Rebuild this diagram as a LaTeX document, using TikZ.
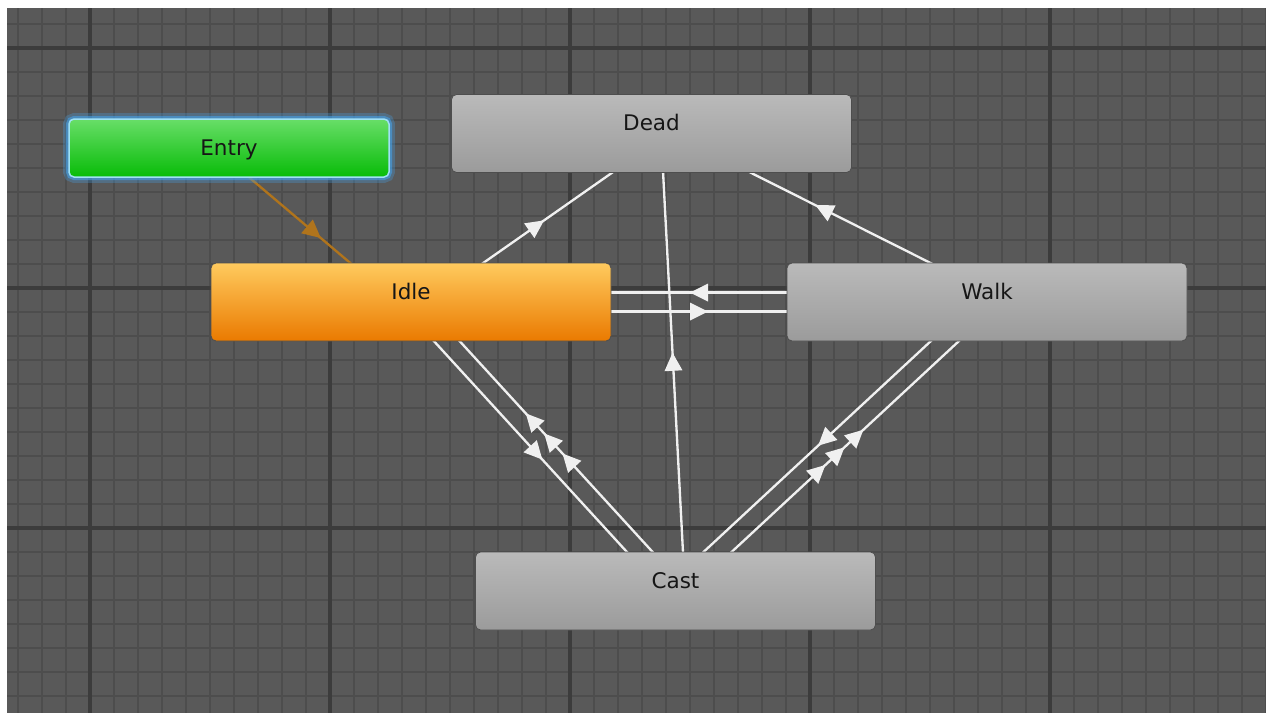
\documentclass[tikz,border=0pt]{standalone}
\usepackage{fontspec}
\setmainfont{DejaVu Sans}
\usetikzlibrary{decorations.markings}

\pgfdeclarelayer{gridlayer}
\pgfdeclarelayer{edgelayer}
\pgfsetlayers{gridlayer,edgelayer,main}

\definecolor{canvas}{RGB}{89,89,89}
\definecolor{minorline}{RGB}{77,77,77}
\definecolor{majorline}{RGB}{60,60,60}
\definecolor{greytop}{RGB}{186,186,186}
\definecolor{greybot}{RGB}{155,155,155}
\definecolor{idletop}{RGB}{255,202,94}
\definecolor{idlebot}{RGB}{234,122,0}
\definecolor{entrytop}{RGB}{104,222,104}
\definecolor{entrybot}{RGB}{8,188,8}
\definecolor{glow}{RGB}{70,160,230}
\definecolor{glowedge}{RGB}{160,225,245}
\definecolor{entryline}{RGB}{176,116,28}
\definecolor{linkwhite}{RGB}{240,240,240}
\definecolor{labelink}{RGB}{22,22,22}
\definecolor{boxedge}{RGB}{78,78,78}

\newcommand\headshape{(5.4pt,0pt) -- (-5.4pt,5.4pt) -- (-5.4pt,-5.4pt) -- cycle}

\tikzset{
  statebox/.style={rounded corners=3pt, minimum width=240pt, inner xsep=0pt, inner ysep=0pt,
    text height=21.6pt, text depth=25.2pt, font=\fontsize{12.9pt}{15pt}\selectfont,
    text=labelink, draw=boxedge, line width=0.5pt},
  greystate/.style={statebox, top color=greytop, bottom color=greybot},
  idlestate/.style={statebox, top color=idletop, bottom color=idlebot},
  entrystate/.style={statebox, minimum width=192pt, text height=22pt, text depth=12.8pt,
    top color=entrytop, bottom color=entrybot, draw=glowedge, line width=0.9pt,
    preaction={draw=glow, line width=7pt, draw opacity=0.3},
    preaction={draw=glow, line width=3.6pt, draw opacity=0.6}},
  link/.style={draw=linkwhite, line width=1.4pt},
  entrylink/.style={draw=entryline, line width=1.4pt},
  onehead/.style={postaction={decorate, decoration={markings,
    mark=at position 0.5 with {\fill[#1] \headshape;}}}},
  threeheadidle/.style={postaction={decorate, decoration={markings,
    mark=at position 0.4305 with {\fill[linkwhite] \headshape;},
    mark=at position 0.5 with {\fill[linkwhite] \headshape;},
    mark=at position 0.5695 with {\fill[linkwhite] \headshape;}}}},
  threeheadwalk/.style={postaction={decorate, decoration={markings,
    mark=at position 0.439 with {\fill[linkwhite] \headshape;},
    mark=at position 0.5 with {\fill[linkwhite] \headshape;},
    mark=at position 0.561 with {\fill[linkwhite] \headshape;}}}},
}

\begin{document}
\begin{tikzpicture}[x=0.6pt, y=-0.6pt]
\useasboundingbox (0,0) rectangle (1266,713);

% canvas and grid
\begin{pgfonlayer}{gridlayer}
  \fill[white] (0,0) rectangle (1266,713);
  \fill[canvas] (7,8) rectangle (1266,713);
  \begin{scope}
    \clip (7,8) rectangle (1266,713);
    \foreach \gx in {18,42,...,1266} \draw[minorline, line width=1.4pt] (\gx,8) -- (\gx,713);
    \foreach \gy in {24,48,...,713} \draw[minorline, line width=1.4pt] (7,\gy) -- (1266,\gy);
    \foreach \gx in {90,330,570,810,1050} \draw[majorline, line width=2.2pt] (\gx,8) -- (\gx,713);
    \foreach \gy in {48,288,528} \draw[majorline, line width=2.2pt] (7,\gy) -- (1266,\gy);
  \end{scope}
\end{pgfonlayer}

% states
\node[entrystate] (entry) at (229,148) {Entry};
\node[greystate] (dead) at (651.5,133.5) {Dead};
\node[idlestate] (idle) at (411,302) {Idle};
\node[greystate] (walk) at (987,302) {Walk};
\node[greystate] (cast) at (675.5,591) {Cast};

% transitions, centre to centre, offset to one side
\begin{pgfonlayer}{edgelayer}
  \draw[entrylink, onehead=entryline] ([shift={(-6.1,7.2)}]entry.center) -- ([shift={(-6.1,7.2)}]idle.center);
  \draw[link, onehead=linkwhite] ([shift={(5.4,7.8)}]idle.center) -- ([shift={(5.4,7.8)}]dead.center);
  \draw[link, onehead=linkwhite] ([shift={(4.3,-8.5)}]walk.center) -- ([shift={(4.3,-8.5)}]dead.center);
  \draw[link, onehead=linkwhite] ([shift={(9.5,-0.5)}]cast.center) -- ([shift={(9.5,-0.5)}]dead.center);
  \draw[link, onehead=linkwhite] ([shift={(0,-9.5)}]walk.center) -- ([shift={(0,-9.5)}]idle.center);
  \draw[link, onehead=linkwhite] ([shift={(0,9.5)}]idle.center) -- ([shift={(0,9.5)}]walk.center);
  \draw[link, onehead=linkwhite] ([shift={(-7,6.4)}]idle.center) -- ([shift={(-7,6.4)}]cast.center);
  \draw[link, threeheadidle] ([shift={(7,-6.4)}]cast.center) -- ([shift={(7,-6.4)}]idle.center);
  \draw[link, onehead=linkwhite] ([shift={(-6.5,-7)}]walk.center) -- ([shift={(-6.5,-7)}]cast.center);
  \draw[link, threeheadwalk] ([shift={(6.5,7)}]cast.center) -- ([shift={(6.5,7)}]walk.center);
\end{pgfonlayer}
\end{tikzpicture}
\end{document}
